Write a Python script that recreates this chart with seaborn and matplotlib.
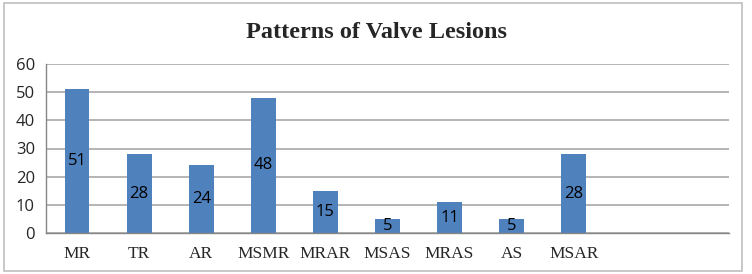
import matplotlib
matplotlib.use("Agg")
import matplotlib.pyplot as plt
import seaborn as sns
import pandas as pd
from matplotlib.patches import Rectangle
from matplotlib.ticker import FixedLocator

# data
lesions = ['MR', 'TR', 'AR', 'MSMR', 'MRAR', 'MSAS', 'MRAS', 'AS', 'MSAR']
counts = [51, 28, 24, 48, 15, 5, 11, 5, 28]
# the chart has two empty category slots at the end
order = lesions + ['', ' ']
y_ticks = [0, 10, 20, 30, 40, 50, 60]

df = pd.DataFrame({'lesion': lesions, 'count': counts})

sns.set_style('white')
fig = plt.figure(figsize=(7.52, 2.74), dpi=100)
ax = fig.add_axes([46 / 752, 41 / 274, 683 / 752, 169 / 274])

sns.barplot(ax=ax, data=df, x='lesion', y='count', order=order,
			color='#4F81BD', saturation=1, width=0.4, edgecolor='none')

for c in ax.containers:
	ax.bar_label(c, label_type='center', fontsize=12, color='black',
				 family='Open Sans')

ax.set_ylim(0, 60)
ax.set_xlim(-0.5, len(order) - 0.5)
ax.set_yticks(y_ticks)
ax.set_yticklabels(y_ticks, fontsize=12, family='Open Sans')
ax.yaxis.grid(True, color='#A0A0A0', linewidth=1.1)
ax.set_axisbelow(True)
ax.set_xticks(range(len(order)))
ax.set_xticklabels(order, fontsize=12.5, family='Liberation Serif')
ax.tick_params(axis='x', which='major', length=0, pad=9)
ax.xaxis.set_minor_locator(FixedLocator([i - 0.5 for i in range(len(order) + 1)]))
ax.tick_params(axis='x', which='minor', length=5, color='#868686', width=1)
ax.tick_params(axis='y', length=5, color='#868686', width=1, pad=3)
ax.set_xlabel('')
ax.set_ylabel('')

for s in ['top', 'right']:
	ax.spines[s].set_visible(False)
for s in ['left', 'bottom']:
	ax.spines[s].set_color('#868686')
	ax.spines[s].set_linewidth(1)

fig.text(0.5, 0.88, 'Patterns of Valve Lesions', ha='center', va='center',
		 fontsize=17.5, fontweight='bold', family='Liberation Serif')

fig.patches.append(Rectangle((4 / 752, 3 / 274), 738 / 752, 268 / 274,
							 transform=fig.transFigure, fill=False,
							 edgecolor='#BFBFBF', linewidth=1.2))

fig.savefig('out.png', dpi=100)
